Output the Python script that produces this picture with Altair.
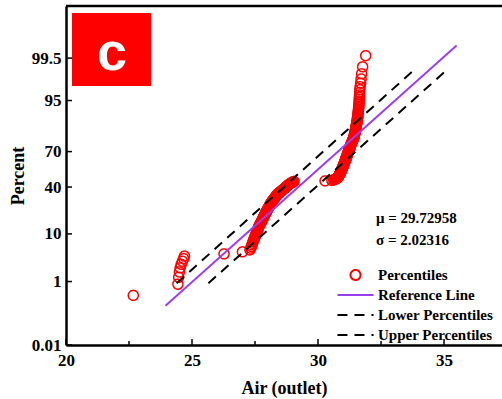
import altair as alt
import pandas as pd
from statistics import NormalDist

# ---------------- data ----------------
air_outlet = [
    22.67,
    24.44, 24.47, 24.50, 24.53, 24.57, 24.62, 24.67, 24.70,
    26.27, 27.00,
    27.30, 27.33, 27.36, 27.38, 27.40, 27.42, 27.44, 27.46, 27.48, 27.50, 27.52,
    27.54, 27.55, 27.57, 27.58, 27.60, 27.61, 27.63, 27.64, 27.66, 27.67, 27.69, 27.71, 27.73, 27.75,
    27.76, 27.78, 27.79, 27.81, 27.82, 27.84, 27.85, 27.87, 27.88, 27.89, 27.91, 27.92, 27.94, 27.95,
    27.96, 27.98, 27.99, 28.00, 28.02, 28.03, 28.05, 28.06, 28.07, 28.09, 28.10, 28.11, 28.12, 28.14, 28.15,
    28.17, 28.18, 28.20, 28.22, 28.23, 28.25, 28.27, 28.28, 28.30, 28.32, 28.33, 28.35, 28.37, 28.38, 28.40,
    28.42, 28.45, 28.47, 28.50, 28.52, 28.55, 28.57, 28.60, 28.62, 28.65, 28.67, 28.70,
    28.72, 28.74, 28.76, 28.78, 28.80, 28.83, 28.85, 28.88,
    28.91, 28.94, 28.97, 29.01, 29.05,
    30.28,
    30.55, 30.62, 30.67, 30.70, 30.73, 30.76, 30.79,
    30.80, 30.81, 30.82, 30.83, 30.84, 30.85, 30.86, 30.87, 30.88, 30.89, 30.90,
    30.91, 30.92, 30.93, 30.93, 30.94, 30.95, 30.96, 30.97, 30.97, 30.98, 30.99, 31.00,
    31.01, 31.01, 31.02, 31.03, 31.04, 31.04, 31.05, 31.06, 31.07, 31.07, 31.08, 31.09, 31.09, 31.10,
    31.11, 31.12, 31.12, 31.13, 31.14, 31.15, 31.15, 31.16, 31.17, 31.18, 31.18, 31.19,
    31.20, 31.21, 31.22, 31.23, 31.23, 31.24, 31.25, 31.26, 31.27, 31.27, 31.28, 31.29, 31.30,
    31.31, 31.32, 31.33, 31.34, 31.35, 31.36, 31.37, 31.38, 31.40,
    31.41, 31.41, 31.42, 31.43, 31.44, 31.44, 31.45, 31.46, 31.46, 31.47, 31.48, 31.48, 31.49, 31.50, 31.50, 31.51, 31.51, 31.52,
    31.53, 31.53, 31.54, 31.55, 31.55, 31.56, 31.56, 31.57, 31.58, 31.58, 31.59, 31.59, 31.60,
    31.60, 31.61, 31.61, 31.62, 31.62, 31.63, 31.63, 31.64, 31.64, 31.65, 31.65,
    31.66, 31.67, 31.69, 31.71, 31.73, 31.77, 31.89,
]

ref_x = [23.95, 35.50]
ref_pct = [0.214, 99.783]
lower_x = [25.65, 35.11]
lower_pct = [0.902, 98.97]
upper_x = [24.39, 33.81]
upper_pct = [0.902, 98.97]

series_names = ["Percentiles", "Reference Line", "Lower Percentiles", "Upper Percentiles"]
y_tick_pct = [0.01, 1, 10, 40, 70, 95, 99.5]
y_tick_labels = ["0.01", "1", "10", "40", "70", "95", "99.5"]
x_ticks = [20, 25, 30, 35]
x_minor = [22.5, 27.5, 32.5]
stats_text = ["\u03bc = 29.72958", "\u03c3 = 2.02316"]
panel_label = "c"

# ---------------- layout / style ----------------
W, H = 436, 339
SERIF = "Liberation Serif"
RED = "#ff0000"
PURPLE = "#9a3ff0"

nd = NormalDist()
z_lo = nd.inv_cdf(0.0001)
z_hi = -z_lo
y_tick_z = [nd.inv_cdf(p / 100.0) for p in y_tick_pct]

parts = []
for i, lab in enumerate(y_tick_labels[:-1]):
    thr = (y_tick_z[i] + y_tick_z[i + 1]) / 2.0
    parts.append(f"datum.value < {thr:.4f} ? '{lab}' : ")
label_expr = "".join(parts) + f"'{y_tick_labels[-1]}'"

xscale = alt.Scale(domain=[20, 37.30], nice=False, zero=False)
yscale = alt.Scale(domain=[z_lo, z_hi], nice=False, zero=False)

xaxis = alt.Axis(values=x_ticks, format="d", ticks=False, grid=False,
                 domainColor="black", domainWidth=2.5, labelFlush=False,
                 labelFont=SERIF, labelFontSize=17, labelFontWeight="bold",
                 labelColor="black", labelPadding=7,
                 title="Air (outlet)", titleFont=SERIF, titleFontSize=18,
                 titleFontWeight="bold", titleColor="black", titlePadding=11)
yaxis = alt.Axis(values=y_tick_z, labelExpr=label_expr, ticks=False, grid=False,
                 domainColor="black", domainWidth=2.5, labelFlush=False,
                 labelOverlap=False,
                 labelFont=SERIF, labelFontSize=17, labelFontWeight="bold",
                 labelColor="black", labelPadding=5,
                 title="Percent", titleFont=SERIF, titleFontSize=18,
                 titleFontWeight="bold", titleColor="black", titlePadding=4)

legend = alt.Legend(title=None, orient="none", legendX=270, legendY=261,
                    labelFont=SERIF, labelFontSize=15, labelFontWeight="bold",
                    labelColor="black", symbolStrokeWidth=2, clipHeight=16,
                    rowPadding=4, labelOffset=3, padding=0)

color_scale = alt.Scale(domain=series_names, range=[RED, PURPLE, "black", "black"])
shape_scale = alt.Scale(domain=series_names, range=["circle", "stroke", "stroke", "stroke"])
size_scale = alt.Scale(type="ordinal", domain=series_names, range=[100, 1300, 1300, 1300])
dash_scale = alt.Scale(domain=series_names, range=[[1, 0], [1, 0], [10, 7], [10, 7]])

X = lambda f: alt.X(f, scale=xscale, axis=xaxis)
Y = lambda f: alt.Y(f, scale=yscale, axis=yaxis)

# ---------------- points ----------------
pts = alt.Chart(pd.DataFrame({"x": air_outlet})).transform_window(
    rank="row_number()", sort=[alt.SortField("x")]
).transform_joinaggregate(
    n="count()"
).transform_calculate(
    z="quantileNormal(datum.rank / (datum.n + 1))",
    series="'Percentiles'",
).mark_point(shape="circle", filled=False, strokeWidth=1.5, opacity=1).encode(
    x=X("x:Q"),
    y=Y("z:Q"),
    color=alt.Color("series:N", scale=color_scale, legend=legend),
    shape=alt.Shape("series:N", scale=shape_scale, legend=legend),
    size=alt.Size("series:N", scale=size_scale, legend=legend),
    strokeDash=alt.StrokeDash("series:N", scale=dash_scale, legend=legend),
)

# ---------------- reference / bound lines ----------------
line_df = pd.DataFrame({
    "series": ["Reference Line"] * 2 + ["Lower Percentiles"] * 2 + ["Upper Percentiles"] * 2,
    "x": ref_x + lower_x + upper_x,
    "pct": ref_pct + lower_pct + upper_pct,
})
lines = alt.Chart(line_df).transform_calculate(
    z="quantileNormal(datum.pct / 100)"
).mark_line(strokeWidth=2).encode(
    x=X("x:Q"),
    y=Y("z:Q"),
    color=alt.Color("series:N", scale=color_scale, legend=legend),
    strokeDash=alt.StrokeDash("series:N", scale=dash_scale, legend=legend),
)

# ---------------- inward ticks ----------------
xt_major = alt.Chart(pd.DataFrame({"x": x_ticks})).mark_rule(color="black", strokeWidth=1.5).encode(
    x=X("x:Q"), y=alt.value(H), y2=alt.value(H - 6))
xt_minor = alt.Chart(pd.DataFrame({"x": x_minor})).mark_rule(color="black", strokeWidth=1.5).encode(
    x=X("x:Q"), y=alt.value(H), y2=alt.value(H - 4))
yt_major = alt.Chart(pd.DataFrame({"z": y_tick_z})).mark_rule(color="black", strokeWidth=1.5).encode(
    y=Y("z:Q"), x=alt.value(0), x2=alt.value(6))

top_border = alt.Chart(alt.Data(values=[{"a": 1}])).mark_rule(color="black", strokeWidth=2.5).encode(
    x=alt.value(0), x2=alt.value(W), y=alt.value(0))

# ---------------- annotations ----------------
box = alt.Chart(alt.Data(values=[{"a": 1}])).mark_rect(color=RED).encode(
    x=alt.value(6), x2=alt.value(85), y=alt.value(7), y2=alt.value(80))
box_text = alt.Chart(alt.Data(values=[{"t": panel_label}])).mark_text(
    font="Liberation Sans", fontWeight="bold", fontSize=54, color="white",
    align="center", baseline="alphabetic").encode(
    text="t:N", x=alt.value(46), y=alt.value(64))
mu_text = alt.Chart(alt.Data(values=[{"t": stats_text[0]}])).mark_text(
    font=SERIF, fontWeight="bold", fontSize=15, color="black",
    align="left", baseline="middle").encode(
    text="t:N", x=alt.value(310), y=alt.value(212))
sd_text = alt.Chart(alt.Data(values=[{"t": stats_text[1]}])).mark_text(
    font=SERIF, fontWeight="bold", fontSize=15, color="black",
    align="left", baseline="middle").encode(
    text="t:N", x=alt.value(310), y=alt.value(234))

chart = alt.layer(
    pts, lines, xt_major, xt_minor, yt_major, top_border,
    box, box_text, mu_text, sd_text
).properties(
    width=W, height=H,
    padding={"left": 66, "top": 6, "right": 0, "bottom": 54},
    autosize=alt.AutoSizeParams(type="none"),
    background="white",
).configure_view(stroke=None)

chart.save("out.html", embed_options={"renderer": "svg", "actions": False})
